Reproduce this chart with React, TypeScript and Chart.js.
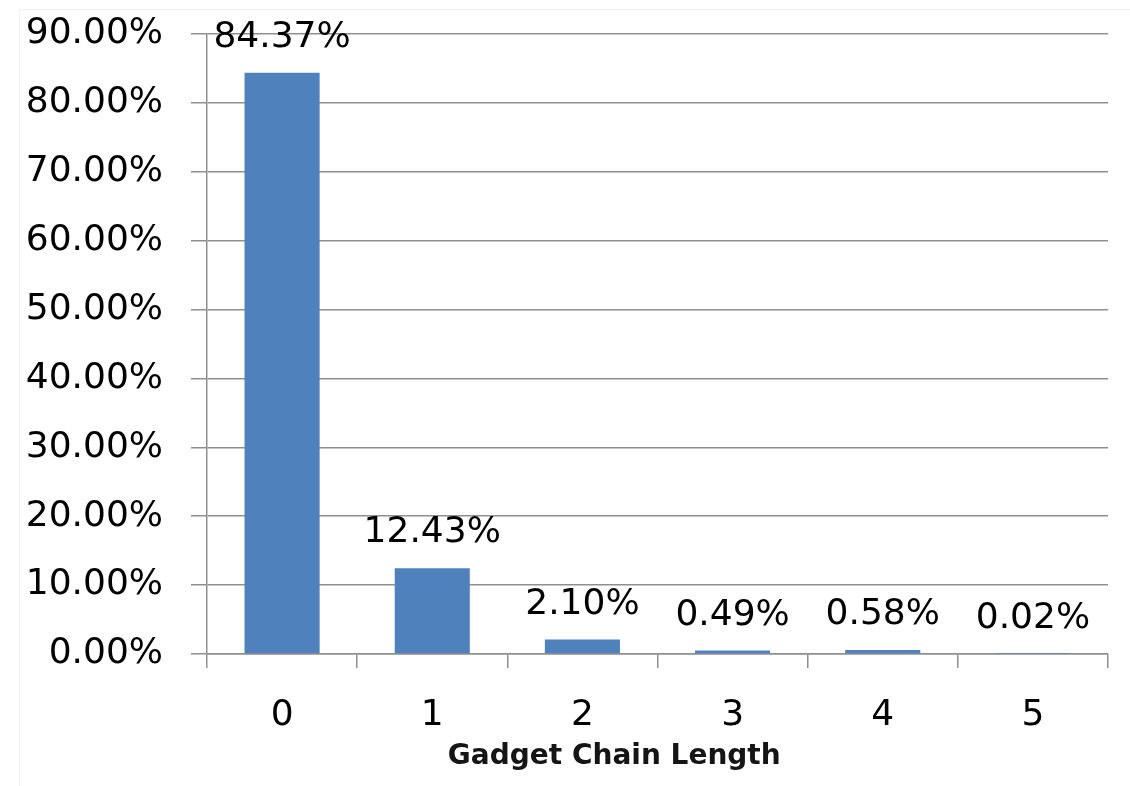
import React, { useEffect, useRef } from "react";
import { Chart, registerables } from "chart.js";

Chart.register(...registerables);

const categories = ["0", "1", "2", "3", "4", "5"];
const shares = [84.37, 12.43, 2.1, 0.49, 0.58, 0.02];
const shareLabels = ["84.37%", "12.43%", "2.10%", "0.49%", "0.58%", "0.02%"];
const xTitle = "Gadget Chain Length";

const FONT = "'DejaVu Sans', Verdana, sans-serif";
const GRID = "#8f8f8f";

const barLabelPlugin = {
  id: "barLabels",
  afterDatasetsDraw(chart: any) {
    const { ctx } = chart;
    const meta = chart.getDatasetMeta(0);
    ctx.save();
    ctx.font = `36px ${FONT}`;
    ctx.fillStyle = "#000";
    ctx.textAlign = "center";
    ctx.textBaseline = "alphabetic";
    meta.data.forEach((bar: any, i: number) => {
      ctx.fillText(shareLabels[i], bar.x, bar.y - 26);
    });
    // axis title, placed as in the reference (left of the axis centre)
    const xs = chart.scales.x;
    ctx.font = `bold 28px ${FONT}`;
    ctx.fillStyle = "#151515";
    ctx.fillText(xTitle, xs.left + (xs.right - xs.left) * 0.452, 764);
    ctx.restore();
  },
};

export default function App() {
  const ref = useRef<HTMLCanvasElement | null>(null);
  useEffect(() => {
    if (!ref.current) return;
    const chart = new Chart(ref.current, {
      type: "bar",
      data: {
        labels: categories,
        datasets: [
          {
            data: shares,
            backgroundColor: "#4F81BD",
            borderWidth: 0,
            barPercentage: 0.5,
            categoryPercentage: 1,
          },
        ],
      },
      options: {
        animation: false,
        responsive: false,
        maintainAspectRatio: false,
        layout: { padding: { top: 34, right: 22, bottom: 0, left: 0 } },
        plugins: { legend: { display: false }, tooltip: { enabled: false } },
        scales: {
          x: {
            offset: true,
            grid: {
              offset: true,
              drawOnChartArea: false,
              drawTicks: true,
              tickLength: 14,
              color: GRID,
              lineWidth: 1.5,
            },
            border: { display: true, color: GRID, width: 1.5 },
            ticks: {
              color: "#000",
              font: { family: FONT, size: 36 },
              padding: 26,
            },
            title: { display: false },
            afterFit(scale: any) {
              scale.height = 132;
              scale.paddingLeft = 0;
              scale.paddingRight = 0;
            },
          },
          y: {
            min: 0,
            max: 90,
            ticks: {
              stepSize: 10,
              color: "#000",
              font: { family: FONT, size: 36 },
              padding: 28,
              callback: (v: any) => Number(v).toFixed(2) + "%",
            },
            grid: {
              color: GRID,
              lineWidth: 1.5,
              drawTicks: true,
              tickLength: 16,
            },
            border: { display: true, color: GRID, width: 1.5 },
            afterFit(scale: any) {
              scale.width = 207;
              scale.paddingTop = 0;
              scale.paddingBottom = 0;
            },
          },
        },
      },
      plugins: [barLabelPlugin],
    });
    return () => chart.destroy();
  }, []);

  return (
    <div
      style={{
        position: "absolute",
        left: 0,
        top: 0,
        width: 1130,
        height: 786,
        background: "#fff",
      }}
    >
      <div
        style={{
          position: "absolute",
          left: 19,
          top: 9,
          right: 0,
          bottom: 0,
          borderLeft: "1px solid #f2f2f2",
          borderTop: "1px solid #f2f2f2",
        }}
      />
      <canvas
        ref={ref}
        width={1130}
        height={786}
        style={{ position: "absolute", left: 0, top: 0, width: 1130, height: 786 }}
      />
    </div>
  );
}
